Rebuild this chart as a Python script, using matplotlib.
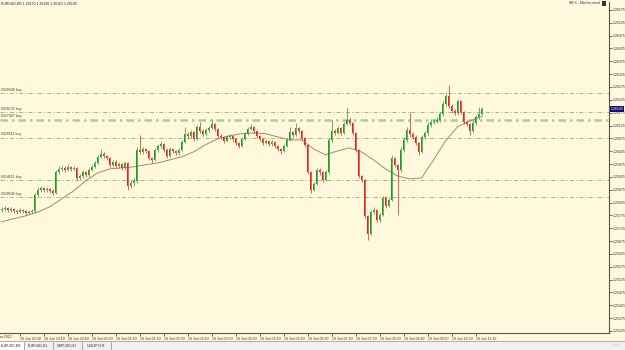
import matplotlib
matplotlib.use("Agg")
import matplotlib.pyplot as plt
from matplotlib.patches import Rectangle
import numpy as np

plt.rcParams["font.family"] = ["Liberation Sans", "DejaVu Sans"]

# ---------------- data (prices in points, 1e-5) ----------------
symbol = "EURUSD,M5"
first_open_pts = 125796
close_pts = [
    125800, 125804, 125796, 125800, 125792, 125788, 125796, 125792, 125784, 125788,
    125792, 125855, 125874, 125882, 125874, 125878, 125870, 125862, 125944, 125956,
    125960, 125952, 125964, 125956, 125960, 125921, 125929, 125944, 125933, 125952,
    125964, 125979, 126003, 126015, 126007, 125999, 125972, 125983, 125968, 125976,
    125960, 125979, 125890, 125901, 125909, 126030, 126022, 126034, 126026, 125999,
    125991, 126030, 126046, 126054, 126030, 126007, 126034, 126026, 126018, 126030,
    126061, 126093, 126085, 126100, 126073, 126120, 126104, 126093, 126108, 126116,
    126131, 126112, 126085, 126081, 126065, 126081, 126085, 126073, 126057, 126046,
    126073, 126093, 126112, 126120, 126104, 126085, 126073, 126057, 126065, 126054,
    126061, 126046, 126034, 126026, 126046, 126069, 126100, 126089, 126116, 126104,
    126077, 126050, 125944, 125874, 125898, 125952, 125944, 125913, 125944, 126069,
    126104, 126096, 126116, 126096, 126131, 126147, 126135, 126096, 126030, 125929,
    125913, 125773, 125703, 125788, 125796, 125757, 125777, 125843, 125812, 125835,
    125999, 125972, 125952, 126030, 126069, 126108, 126093, 126081, 126057, 126022,
    126081, 126096, 126128, 126139, 126143, 126147, 126170, 126209, 126241, 126202,
    126182, 126174, 126221, 126178, 126139, 126131, 126104, 126135, 126159, 126170,
    126190,
]
high_pts = [
    125808, 125812, 125808, 125808, 125804, 125800, 125804, 125800, 125796, 125796,
    125800, 125862, 125886, 125890, 125886, 125886, 125882, 125878, 125952, 125968,
    125972, 125968, 125976, 125968, 125968, 125964, 125937, 125952, 125948, 125960,
    125972, 125987, 126011, 126034, 126022, 126011, 126003, 125991, 125991, 125983,
    125979, 125987, 125983, 125913, 125921, 126042, 126089, 126042, 126038, 126030,
    126003, 126038, 126054, 126065, 126057, 126038, 126042, 126038, 126030, 126038,
    126069, 126120, 126100, 126108, 126104, 126128, 126139, 126112, 126116, 126124,
    126151, 126135, 126116, 126093, 126085, 126089, 126093, 126089, 126077, 126061,
    126081, 126100, 126120, 126131, 126124, 126108, 126089, 126077, 126073, 126069,
    126069, 126065, 126050, 126038, 126054, 126077, 126120, 126104, 126135, 126120,
    126108, 126081, 126054, 125948, 125905, 125960, 125960, 125948, 125952, 126077,
    126147, 126112, 126124, 126120, 126139, 126198, 126155, 126139, 126100, 126034,
    125933, 125917, 125777, 125796, 125808, 125800, 125784, 125851, 125847, 125843,
    126011, 126003, 125976, 126042, 126081, 126120, 126178, 126100, 126089, 126061,
    126089, 126104, 126139, 126151, 126151, 126159, 126178, 126221, 126252, 126283,
    126209, 126190, 126229, 126225, 126182, 126147, 126135, 126143, 126167, 126198,
    126198,
]
low_pts = [
    125788, 125792, 125788, 125788, 125784, 125781, 125784, 125784, 125777, 125781,
    125784, 125784, 125851, 125866, 125866, 125866, 125862, 125855, 125859, 125937,
    125948, 125944, 125948, 125948, 125948, 125913, 125913, 125921, 125925, 125925,
    125948, 125960, 125976, 125999, 125999, 125991, 125964, 125964, 125960, 125960,
    125952, 125952, 125874, 125882, 125890, 125901, 126015, 126015, 126018, 125991,
    125979, 125987, 126022, 126038, 126022, 125999, 126003, 126018, 126011, 126011,
    126026, 126057, 126077, 126077, 126065, 126069, 126096, 126085, 126085, 126100,
    126112, 126104, 126077, 126073, 126057, 126061, 126073, 126065, 126050, 126038,
    126042, 126069, 126089, 126108, 126096, 126077, 126065, 126050, 126054, 126046,
    126046, 126038, 126026, 126015, 126022, 126042, 126065, 126081, 126085, 126096,
    126069, 126042, 125937, 125862, 125870, 125894, 125933, 125905, 125909, 125937,
    126061, 126089, 126093, 126089, 126093, 126128, 126128, 126089, 126022, 125921,
    125905, 125765, 125679, 125699, 125781, 125749, 125749, 125773, 125804, 125808,
    125831, 125964, 125777, 125944, 126022, 126061, 126081, 126073, 126050, 126011,
    126018, 126073, 126089, 126120, 126131, 126135, 126139, 126163, 126202, 126194,
    126174, 126167, 126167, 126170, 126131, 126124, 126089, 126096, 126128, 126151,
    126163,
]
ma_bars = list(range(0, 161, 4))
ma_pts = [
    125750, 125762, 125773, 125788, 125808, 125839, 125870, 125909, 125940, 125956,
    125960, 125964, 125972, 125979, 125991, 126003, 126022, 126050, 126073, 126085,
    126093, 126096, 126093, 126081, 126069, 126069, 126034, 126011, 126026, 126038,
    126022, 125991, 125956, 125929, 125917, 125921, 125991, 126065, 126120, 126143,
    126159,
]
order_labels = ["6028846 buy", "6028131 buy", "6027407 buy",
                "6028911 buy", "6024651 buy", "6028646 buy"]
order_pts = [126252, 126178, 126147, 126077, 125913, 125847]
order_bold = [False, False, True, False, False, False]
price_ticks = [1.26575, 1.26525, 1.26475, 1.26425, 1.26375, 1.26325, 1.26275,
               1.26225, 1.26175, 1.26125, 1.26075, 1.26025, 1.25975, 1.25925,
               1.25875, 1.25825, 1.25775, 1.25725, 1.25675, 1.25625, 1.25575,
               1.25525, 1.25475, 1.25425, 1.25375, 1.25325]
time_label_bars = [6, 14, 22, 30, 38, 46, 54, 62, 70, 78, 86, 94, 102, 110,
                   118, 126, 134, 142, 150, 158]
time_labels = ["18 Jun 22:30", "18 Jun 23:10", "18 Jun 23:50", "19 Jun 00:30",
               "19 Jun 01:10", "19 Jun 01:50", "19 Jun 02:30", "19 Jun 03:10",
               "19 Jun 03:50", "19 Jun 04:30", "19 Jun 05:10", "19 Jun 05:50",
               "19 Jun 06:30", "19 Jun 07:10", "19 Jun 07:50", "19 Jun 08:30",
               "19 Jun 09:10", "19 Jun 09:50", "19 Jun 10:30", "19 Jun 11:10"]
first_date_label = "18 Jun 2012"
tabs = ["EURUSD,M5", "EURUSD,H1", "GBPUSD,H1", "USDJPY,H1"]
terminal_label = "IBFX - Mini terminal"

# ---------------- derived ----------------
close = np.array(close_pts) / 1e5
high = np.array(high_pts) / 1e5
low = np.array(low_pts) / 1e5
opn = np.concatenate([[first_open_pts / 1e5], close[:-1]])
ma = np.array(ma_pts) / 1e5
n = len(close)
idx = np.arange(n)

# ---------------- figure ----------------
W, H = 625, 350
BG = "#fff8dc"
FS = 2.5
fig = plt.figure(figsize=(W / 100, H / 100), dpi=100)
fig.patch.set_facecolor(BG)

def fx(px):
    return px / W

def fy(py):
    return 1 - py / H

ax = fig.add_axes([0, fy(333), fx(609), fy(2) - fy(333)])
ax.set_facecolor(BG)
ax.set_xlim(-0.5, 202.5)
ax.set_ylim(1.25317, 1.26606)

for s in ["top", "left"]:
    ax.spines[s].set_visible(False)
for s in ["right", "bottom"]:
    ax.spines[s].set_color("#555555")
    ax.spines[s].set_linewidth(0.8)

# order lines
for lab, p, bold in zip(order_labels, order_pts, order_bold):
    price = p / 1e5
    if bold:
        ax.axhline(price, color="#a9d18e", lw=1.8, dashes=(3.0, 1.6, 1.0, 1.6), zorder=1)
    else:
        ax.axhline(price, color="#86b86a", lw=0.6, dashes=(5, 2.5, 1.2, 2.5), zorder=1)
    ax.annotate(lab, xy=(0, price), xycoords=("axes fraction", "data"),
                xytext=(1, 1.0), textcoords="offset points", fontsize=FS,
                color="#444444", ha="left", va="bottom")

# MA line
ax.plot(ma_bars, ma, color="#a8876e", lw=0.7, zorder=2)

# candles
up = close >= opn
colors = np.where(up, "#1f9a2a", "#e0231d")
ax.vlines(idx, low, high, colors=colors, lw=0.5, zorder=3)
ax.bar(idx, np.abs(close - opn), bottom=np.minimum(close, opn), width=0.62,
       color=colors, linewidth=0, zorder=4)

# axes ticks
ax.yaxis.tick_right()
ax.set_yticks(price_ticks)
ax.set_yticklabels([f"{v:.5f}" for v in price_ticks])
ax.tick_params(axis="y", length=2, width=0.5, pad=0.8, labelsize=FS,
               colors="#333333")
ax.set_xticks(time_label_bars)
ax.set_xticklabels(time_labels, ha="left")
ax.tick_params(axis="x", length=2, width=0.5, pad=0.6, labelsize=FS,
               colors="#333333")
fig.text(fx(-8), fy(337.3), first_date_label, fontsize=FS, color="#333333",
         ha="left", va="center")

# current price marker
last = close[-1]
ax.annotate(f"{last:.5f}", xy=(1.0, last), xycoords=("axes fraction", "data"),
            xytext=(1.2, 0), textcoords="offset points", fontsize=FS,
            color="white", ha="left", va="center", annotation_clip=False,
            bbox=dict(boxstyle="square,pad=0.25", fc="#101070", ec="none"))

# title info
fig.text(fx(1), fy(4), f"{symbol} {opn[-1]:.5f} {high[-1]:.5f} {low[-1]:.5f} {close[-1]:.5f}",
         fontsize=FS, color="#202060", ha="left", va="center")
fig.text(fx(600), fy(3.5), terminal_label, fontsize=FS, color="#333366",
         ha="right", va="center")
fig.patches.append(Rectangle((fx(602), fy(6)), fx(4), fy(1) - fy(6),
                             transform=fig.transFigure, fc="#333333", ec="none"))

# tab bar
fig.patches.append(Rectangle((0, 0), 1, fy(341), transform=fig.transFigure,
                             fc="#f0f0f0", ec="none"))
fig.add_artist(plt.Line2D([0, 1], [fy(341), fy(341)], transform=fig.transFigure,
                          color="#a0a0a0", lw=0.6))
tab_x = [0.5, 28, 57, 87]
sep_x = [24, 53, 82, 111]
fig.patches.append(Rectangle((0, 0), fx(24), fy(341), transform=fig.transFigure,
                             fc="white", ec="none"))
for t, x0, sx in zip(tabs, tab_x, sep_x):
    fig.text(fx(x0), fy(345.5), t, fontsize=FS, color="#333333",
             ha="left", va="center")
    fig.add_artist(plt.Line2D([fx(sx), fx(sx)], [fy(349), fy(342)],
                              transform=fig.transFigure, color="#888888", lw=0.5))
fig.text(fx(616), fy(345.5), "\u2039  \u203a", fontsize=FS, color="#555555",
         ha="center", va="center")

fig.savefig("out.png", dpi=100, facecolor=fig.get_facecolor())
